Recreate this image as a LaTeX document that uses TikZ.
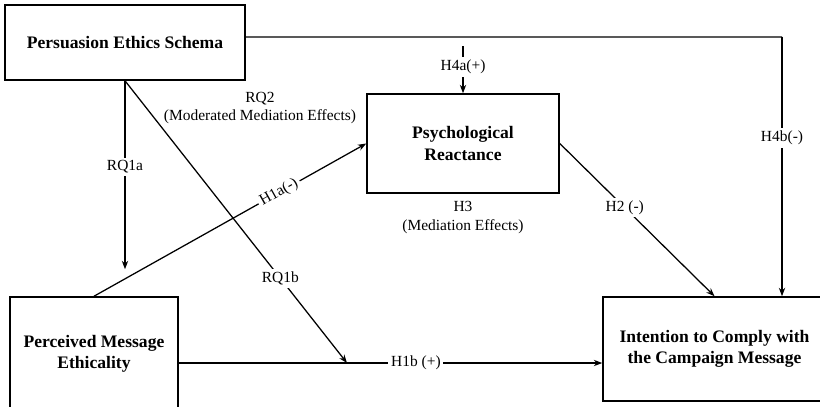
\documentclass[tikz,border=0pt]{standalone}
\usepackage{fontspec}
\setmainfont{Liberation Serif}
\usetikzlibrary{arrows.meta}
\tikzset{
  box/.style={draw, line width=1.1pt, align=center, inner sep=0pt,
    font=\fontsize{12.5}{15}\selectfont\bfseries},
  lab/.style={fill=white, inner sep=2pt, align=center,
    font=\fontsize{11}{13}\selectfont},
  arr/.style={line width=0.9pt, -{Stealth[length=6pt,width=4.5pt]}},
  ln/.style={line width=0.9pt}
}
\begin{document}
\begin{tikzpicture}
\useasboundingbox (0,0) rectangle (20.5,10.15);
% constructs
\node [box, minimum width=6cm, minimum height=1.875cm] (pes) at (3.125,9.0875) {Persuasion Ethics Schema};
\node [box, minimum width=4.8cm, minimum height=2.475cm] (react) at (11.575,6.5625) {Psychological\\Reactance};
\node [box, minimum width=4.2cm, minimum height=2.85cm] (perc) at (2.35,1.3) {Perceived Message\\Ethicality};
\node [box, minimum width=5.575cm, minimum height=2.6cm] (int) at (17.8625,1.425) {Intention to Comply with\\the Campaign Message};
% helper points
\coordinate (corner) at (19.55,9.225);
\coordinate (h4a) at (11.575,9.0);
\coordinate (rqend) at (8.675,1.075);
% paths
\draw [ln] ([yshift=0.1375cm]pes.east) -- (corner);
\draw [arr] (corner) -- node [lab, pos=0.39] {H4b(-)} (corner |- int.north);
\draw [arr] (h4a) -- node [lab, pos=0.44] {H4a(+)} (react.north);
\draw [arr, shorten >=0.675cm] (pes.south) -- node [lab, pos=0.4] {RQ1a} (pes.south |- perc.north);
\draw [arr] (pes.south) -- node [lab, pos=0.7] {RQ1b} (rqend);
\draw [arr] (perc.north) -- node [lab, sloped, pos=0.68] {H1a(-)} (react.west);
\draw [arr] (react.east) -- node [lab, pos=0.42] {H2 (-)} (int.north);
\draw [arr] ([yshift=-0.225cm]perc.east) -- node [lab, pos=0.56] {H1b (+)} ([yshift=-0.225cm]perc.east -| int.west);
% effect labels
\node [lab, fill=none] (rq2) at (6.5,7.45) {RQ2\\(Moderated Mediation Effects)};
\node [lab, fill=none, below=0.12cm] (h3) at (react.south) {H3\\(Mediation Effects)};
\end{tikzpicture}
\end{document}
